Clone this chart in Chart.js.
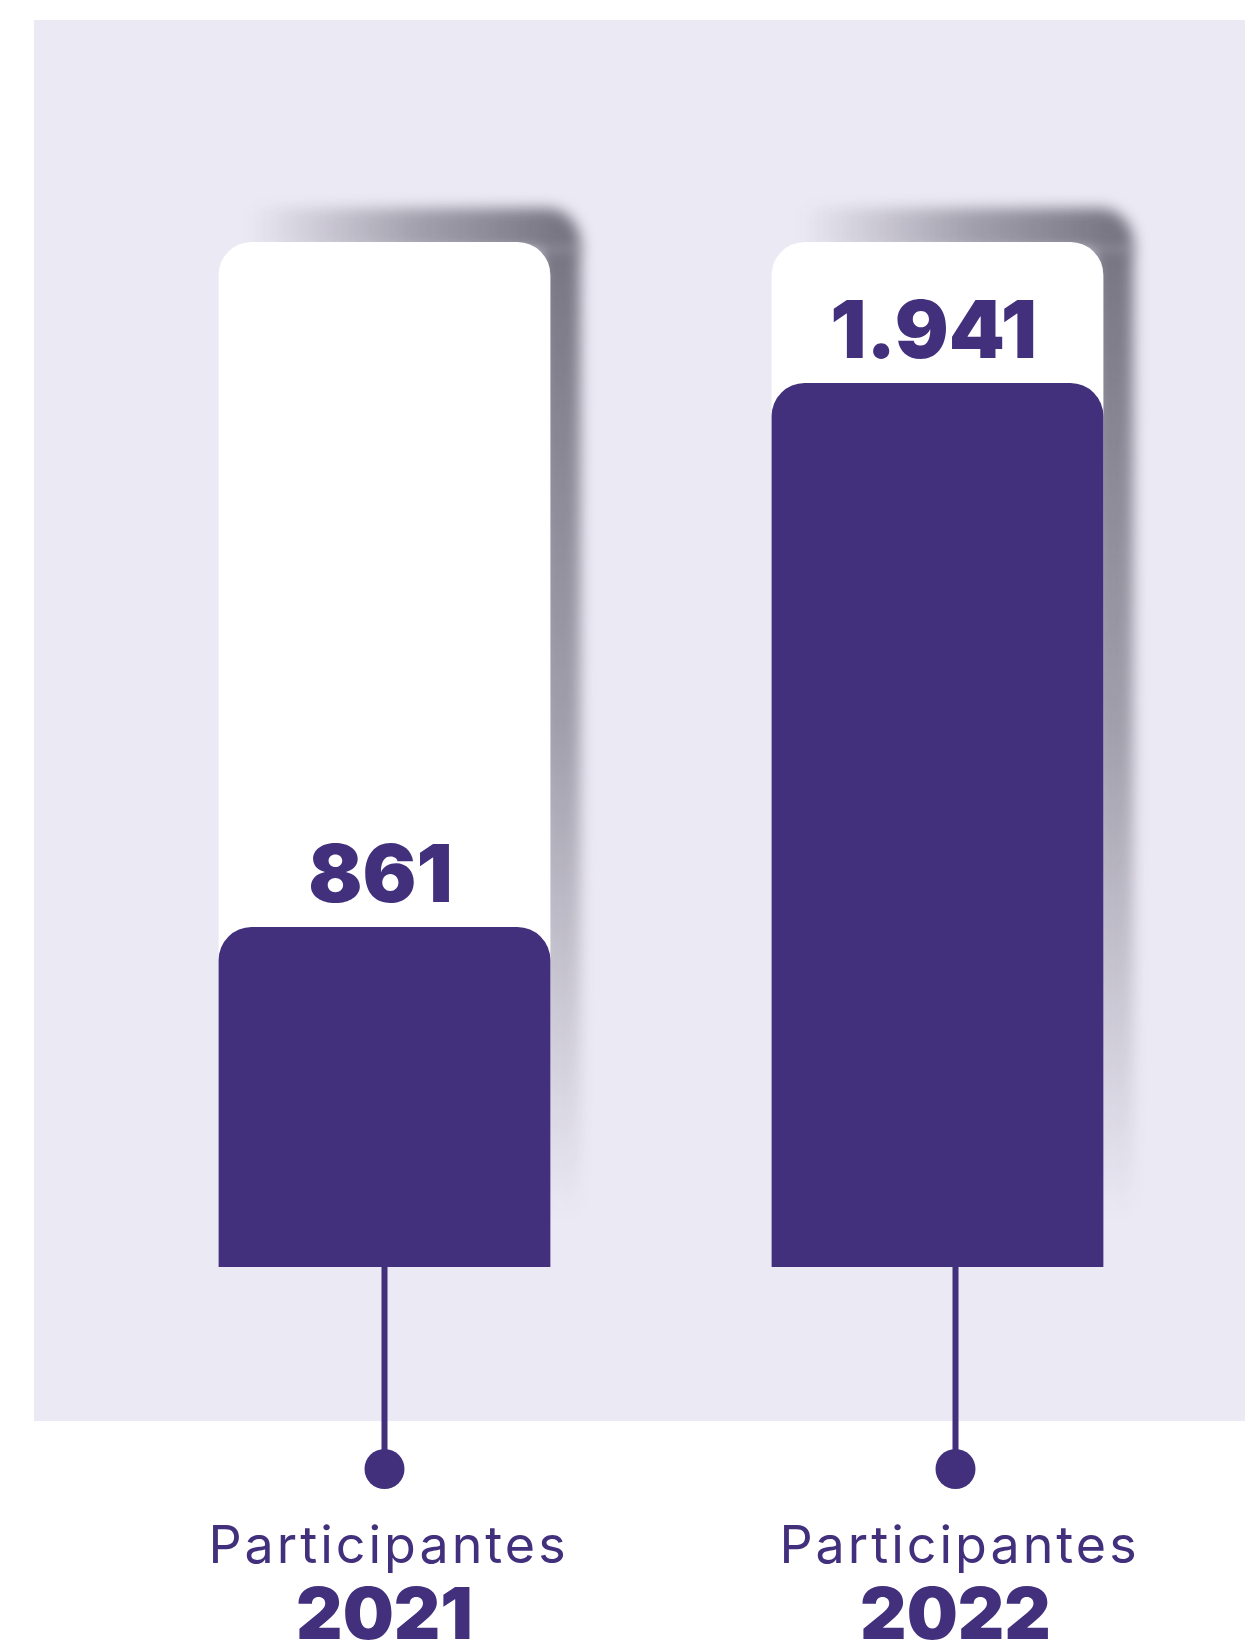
<!DOCTYPE html>
<html>
<head>
<meta charset="utf-8">
<title>Participantes</title>
<script src="https://cdn.jsdelivr.net/npm/chart.js@4.4.1/dist/chart.umd.min.js"></script>
<style>
  html, body { margin: 0; padding: 0; background: #ffffff; }
  #wrap { position: relative; width: 1245px; height: 1644px; }
</style>
</head>
<body>
<div id="wrap"><canvas id="participantes"></canvas></div>
<script>
// Data

var years = ['2021', '2022'];
var participants = [861, 1941];
var captions = ['Participantes', 'Participantes'];

// axis range (the original graphic is not drawn from zero)
var axisMin = 186;
var axisMax = 2221;
var track = [axisMax, axisMax];

var purple = '#42307d';
var panel = '#ebe9f4';

function formatNumber(n) {
  return String(n).replace(/\B(?=(\d{3})+(?!\d))/g, '.');
}

// Background panel, bar shadows, value labels, stems and captions

var decorations = {
  id: 'decorations',
  beforeDraw: function (chart) {
    var ctx = chart.ctx;
    ctx.save();
    ctx.fillStyle = panel;
    ctx.fillRect(34, 20, chart.width - 34, 1401);
    ctx.restore();
  },
  beforeDatasetsDraw: function (chart) {
    var ctx = chart.ctx;
    var bars = chart.getDatasetMeta(1).data;
    var bottom = chart.chartArea.bottom;
    bars.forEach(function (bar) {
      var left = bar.x - bar.width / 2;
      var right = bar.x + bar.width / 2;
      var top = bar.y;
      ctx.save();
      ctx.filter = 'blur(7px)';

      // right strip, fading downwards
      var g = ctx.createLinearGradient(0, top, 0, bottom - 50);
      g.addColorStop(0, 'rgba(60,58,72,0.66)');
      g.addColorStop(0.5, 'rgba(60,58,72,0.42)');
      g.addColorStop(1, 'rgba(60,58,72,0)');
      ctx.fillStyle = g;
      ctx.fillRect(right - 10, top + 6, 40, bottom - top - 50);

      // top strip, fading to the left
      var g2 = ctx.createLinearGradient(left + 30, 0, right + 10, 0);
      g2.addColorStop(0, 'rgba(60,58,72,0)');
      g2.addColorStop(0.55, 'rgba(60,58,72,0.42)');
      g2.addColorStop(1, 'rgba(60,58,72,0.66)');
      ctx.fillStyle = g2;
      ctx.beginPath();
      ctx.roundRect(left + 30, top - 34, right - left, 42, [0, 34, 0, 0]);
      ctx.fill();
      ctx.restore();
    });
  },
  afterDatasetsDraw: function (chart, args, opts) {
    var ctx = chart.ctx;
    var meta = chart.getDatasetMeta(0);
    var x = chart.scales.x;
    var base = chart.chartArea.bottom;
    ctx.save();
    ctx.fillStyle = purple;
    ctx.strokeStyle = purple;
    ctx.textAlign = 'center';

    meta.data.forEach(function (bar, i) {
      // value label above the purple bar
      ctx.font = '900 80px Inter';
      ctx.letterSpacing = '0px';
      ctx.textBaseline = 'alphabetic';
      ctx.fillText(formatNumber(participants[i]), bar.x - 4, bar.y - 25);

      // stem and dot
      var cx = x.getPixelForValue(i) + opts.shift[i];
      ctx.lineWidth = 6;
      ctx.beginPath();
      ctx.moveTo(cx, base);
      ctx.lineTo(cx, base + 200);
      ctx.stroke();
      ctx.beginPath();
      ctx.arc(cx, base + 202, 20, 0, Math.PI * 2);
      ctx.fill();

      // captions
      ctx.font = '400 52px Inter';
      ctx.letterSpacing = '3px';
      ctx.fillText(captions[i], cx + 4, base + 296);
      ctx.font = '900 72px Inter';
      ctx.letterSpacing = '0px';
      ctx.fillText(years[i], cx, base + 372);
    });
    ctx.restore();
  }
};

var ctx = document.getElementById('participantes').getContext('2d');
new Chart(ctx, {
  type: 'bar',
  data: {
    labels: years,
    datasets: [
      {
        label: 'Participantes',
        data: participants,
        backgroundColor: purple,
        borderRadius: { topLeft: 33, topRight: 33 },
        borderSkipped: 'start',
        grouped: false,
        order: 1
      },
      {
        label: 'Total',
        data: track,
        backgroundColor: '#ffffff',
        borderRadius: { topLeft: 33, topRight: 33 },
        borderSkipped: 'start',
        grouped: false,
        order: 2
      }
    ]
  },
  options: {
    responsive: true,
    maintainAspectRatio: false,
    animation: false,
    layout: { padding: { top: 242, bottom: 377, left: 108, right: 31 } },
    datasets: { bar: { barPercentage: 1, categoryPercentage: 0.6 } },
    scales: {
      x: { display: false },
      y: { display: false, min: axisMin, max: axisMax }
    },
    plugins: {
      legend: { display: false },
      tooltip: { enabled: false },
      decorations: { shift: [0, 18] }
    }
  },
  plugins: [decorations]
});
</script>
</body>
</html>
